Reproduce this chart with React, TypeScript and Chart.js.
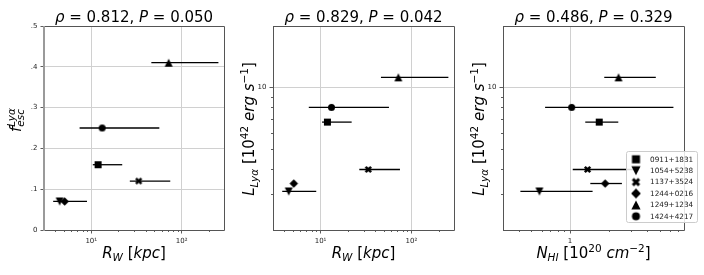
import React, { useEffect, useRef } from "react";
import { Chart, registerables } from "chart.js";
Chart.register(...registerables);

// ---------------- data ----------------
const sources = ["0911+1831", "1054+5238", "1137+3524", "1244+0216", "1249+1234", "1424+4217"];
const markerKinds = ["s", "v", "X", "D", "^", "o"];
const rw = [11.9, 4.47, 33.5, 5.08, 71.8, 13.2];
const rwLow: (number | null)[] = [10.4, 3.79, 26.7, null, 46.2, 7.43];
const rwHigh: (number | null)[] = [22.0, 8.97, 74.8, null, 255, 56.6];
const fescLya = [0.16, 0.07, 0.12, 0.07, 0.41, 0.25];
const lumLya = [6.76, 3.09, 3.96, 3.38, 11.2, 7.98];
const nHI = [1.69, 0.577, 1.37, 1.88, 2.39, 1.03];
const nHILow: (number | null)[] = [1.315, 0.41, 1.05, 1.44, 1.85, 0.639];
const nHIHigh: (number | null)[] = [2.38, 1.5, 3.2, 2.54, 4.67, 6.41];

const rhoValues = ["0.812", "0.829", "0.486"];
const pValues = ["0.050", "0.042", "0.329"];

const fescTicks = [0, 0.1, 0.2, 0.3, 0.4, 0.5];
const fescTickLabels = ["0", ".1", ".2", ".3", ".4", ".5"];
const rwTicks = [10, 100];
const rwTickLabels = ["10\u00b9", "10\u00b2"];
const rwMinorTicks = [3, 4, 5, 6, 7, 8, 9, 20, 30, 40, 50, 60, 70, 80, 90, 200];
const lumTicks = [10];
const lumTickLabels = ["10"];
const lumMinorTicks = [2, 3, 4, 5, 6, 7, 8, 9];
const nhiTicks = [1];
const nhiTickLabels = ["1"];
const nhiMinorTicks = [0.4, 0.5, 0.6, 0.7, 0.8, 0.9, 2, 3, 4, 5, 6, 7];

// ---------------- styling / layout ----------------
const W = 704;
const H = 275;
const FONT = '"DejaVu Sans", sans-serif';
const YW = 30; // y-axis box width

type Seg = { t: string; it?: boolean; s?: number; dy?: number; stack?: Seg[] };

function segFont(seg: Seg, base: number) {
  return `${seg.it ? "italic " : ""}${seg.s ?? base}px ${FONT}`;
}
function segWidth(ctx: CanvasRenderingContext2D, seg: Seg, base: number): number {
  if (seg.stack) return Math.max(...seg.stack.map((s) => segWidth(ctx, s, base)));
  ctx.font = segFont(seg, base);
  return ctx.measureText(seg.t).width;
}
function drawRich(
  ctx: CanvasRenderingContext2D,
  segs: Seg[],
  x: number,
  y: number,
  base: number,
  rotate = false
) {
  ctx.save();
  ctx.translate(x, y);
  if (rotate) ctx.rotate(-Math.PI / 2);
  ctx.textAlign = "left";
  ctx.textBaseline = "alphabetic";
  ctx.fillStyle = "#000";
  const total = segs.reduce((a, s) => a + segWidth(ctx, s, base), 0);
  let cx = -total / 2;
  for (const seg of segs) {
    const w = segWidth(ctx, seg, base);
    const parts = seg.stack ? seg.stack : [seg];
    for (const p of parts) {
      ctx.font = segFont(p, base);
      ctx.fillText(p.t, cx, p.dy ?? 0);
    }
    cx += w;
  }
  ctx.restore();
}

function makeMarker(kind: string, size: number): HTMLCanvasElement {
  const pad = 2;
  const d = Math.ceil(size + pad * 2);
  const c = document.createElement("canvas");
  c.width = d;
  c.height = d;
  const g = c.getContext("2d")!;
  const m = d / 2;
  const r = size / 2;
  g.fillStyle = "#000";
  g.strokeStyle = "#000";
  g.beginPath();
  if (kind === "s") {
    g.rect(m - r, m - r, size, size);
    g.fill();
  } else if (kind === "o") {
    g.arc(m, m, r, 0, Math.PI * 2);
    g.fill();
  } else if (kind === "^") {
    g.moveTo(m, m - r);
    g.lineTo(m + r, m + r);
    g.lineTo(m - r, m + r);
    g.closePath();
    g.fill();
  } else if (kind === "v") {
    g.moveTo(m, m + r);
    g.lineTo(m + r, m - r);
    g.lineTo(m - r, m - r);
    g.closePath();
    g.fill();
  } else if (kind === "D") {
    g.moveTo(m, m - r);
    g.lineTo(m + r, m);
    g.lineTo(m, m + r);
    g.lineTo(m - r, m);
    g.closePath();
    g.fill();
  } else if (kind === "X") {
    const a = r * 0.78;
    g.lineWidth = size * 0.36;
    g.lineCap = "butt";
    g.moveTo(m - a, m - a);
    g.lineTo(m + a, m + a);
    g.moveTo(m + a, m - a);
    g.lineTo(m - a, m + a);
    g.stroke();
  }
  return c;
}
const markerSize: Record<string, number> = { s: 7, v: 8, X: 7, D: 8.5, "^": 8, o: 7 };

interface Panel {
  xs: number[];
  ys: number[];
  lo: (number | null)[];
  hi: (number | null)[];
  xType: "logarithmic" | "linear";
  yType: "logarithmic" | "linear";
  xMin: number;
  xMax: number;
  yMin: number;
  yMax: number;
  xTicks: number[];
  xTickLabels: string[];
  xMinor: number[];
  yTicks: number[];
  yTickLabels: string[];
  yMinor: number[];
  area: { l: number; r: number; t: number; b: number };
  title: Seg[];
  xLabel: Seg[];
  yLabel: Seg[];
  yLabelPos: { x: number; y: number };
  leftSpine: { color: string; width: number };
  legend: boolean;
}

const SUB = 10.5;
const titleSegs = (i: number): Seg[] => [
  { t: "\u03c1", it: true },
  { t: " = " + rhoValues[i] + ", " },
  { t: "P", it: true },
  { t: " = " + pValues[i] },
];
const rwLabel: Seg[] = [
  { t: "R", it: true },
  { t: "W", it: true, s: SUB, dy: 3 },
  { t: " [" },
  { t: "kpc", it: true },
  { t: "]" },
];
const nhiLabel: Seg[] = [
  { t: "N", it: true },
  { t: "HI", it: true, s: SUB, dy: 3 },
  { t: " [10" },
  { t: "20", s: SUB, dy: -6 },
  { t: " " },
  { t: "cm", it: true },
  { t: "\u22122", s: SUB, dy: -6 },
  { t: "]" },
];
const lumLabel: Seg[] = [
  { t: "L", it: true },
  { t: "Ly\u03b1", it: true, s: SUB, dy: 3.5 },
  { t: " [10" },
  { t: "42", s: SUB, dy: -6 },
  { t: " " },
  { t: "erg", it: true },
  { t: " " },
  { t: "s", it: true },
  { t: "\u22121", s: SUB, dy: -6 },
  { t: "]" },
];
const fescLabel: Seg[] = [
  { t: "f", it: true },
  {
    t: "",
    stack: [
      { t: "Ly\u03b1", it: true, s: SUB, dy: -5.5 },
      { t: "esc", it: true, s: SUB, dy: 3 },
    ],
  },
];

const RW_MIN = 3.0;
const RW_MAX = 294;

const panels: Panel[] = [
  {
    xs: rw, ys: fescLya, lo: rwLow, hi: rwHigh,
    xType: "logarithmic", yType: "linear",
    xMin: RW_MIN, xMax: RW_MAX, yMin: 0, yMax: 0.5,
    xTicks: rwTicks, xTickLabels: rwTickLabels, xMinor: rwMinorTicks,
    yTicks: fescTicks, yTickLabels: fescTickLabels, yMinor: [],
    area: { l: 44, r: 224, t: 26, b: 230 },
    title: titleSegs(0), xLabel: rwLabel, yLabel: fescLabel,
    yLabelPos: { x: 20.5, y: 120 },
    leftSpine: { color: "#9a9a9a", width: 2 },
    legend: false,
  },
  {
    xs: rw, ys: lumLya, lo: rwLow, hi: rwHigh,
    xType: "logarithmic", yType: "logarithmic",
    xMin: RW_MIN, xMax: RW_MAX, yMin: 2, yMax: 20,
    xTicks: rwTicks, xTickLabels: rwTickLabels, xMinor: rwMinorTicks,
    yTicks: lumTicks, yTickLabels: lumTickLabels, yMinor: lumMinorTicks,
    area: { l: 273, r: 454, t: 26, b: 230 },
    title: titleSegs(1), xLabel: rwLabel, yLabel: lumLabel,
    yLabelPos: { x: 254, y: 129 },
    leftSpine: { color: "#555", width: 1 },
    legend: false,
  },
  {
    xs: nHI, ys: lumLya, lo: nHILow, hi: nHIHigh,
    xType: "logarithmic", yType: "logarithmic",
    xMin: 0.303, xMax: 7.75, yMin: 2, yMax: 20,
    xTicks: nhiTicks, xTickLabels: nhiTickLabels, xMinor: nhiMinorTicks,
    yTicks: lumTicks, yTickLabels: lumTickLabels, yMinor: lumMinorTicks,
    area: { l: 503, r: 684, t: 26, b: 230 },
    title: titleSegs(2), xLabel: nhiLabel, yLabel: lumLabel,
    yLabelPos: { x: 484, y: 129 },
    leftSpine: { color: "#555", width: 1 },
    legend: true,
  },
];

function buildChart(canvas: HTMLCanvasElement, p: Panel): Chart {
  const pointImgs = markerKinds.map((k) => makeMarker(k, markerSize[k]));
  const legendImgs = markerKinds.map((k) => makeMarker(k, markerSize[k] * 1.15));
  const crisp = (v: number) => Math.round(v) + 0.5;

  const deco = {
    id: "deco",
    beforeDatasetsDraw(chart: any) {
      const ctx: CanvasRenderingContext2D = chart.ctx;
      const sx = chart.scales.x;
      const sy = chart.scales.y;
      ctx.save();
      ctx.strokeStyle = "#000";
      ctx.lineWidth = 1.3;
      p.lo.forEach((lo, i) => {
        const hi = p.hi[i];
        if (lo == null || hi == null) return;
        const y = sy.getPixelForValue(p.ys[i]);
        ctx.beginPath();
        ctx.moveTo(sx.getPixelForValue(lo), y);
        ctx.lineTo(sx.getPixelForValue(hi), y);
        ctx.stroke();
      });
      ctx.restore();
    },
    afterDraw(chart: any) {
      const ctx: CanvasRenderingContext2D = chart.ctx;
      const a = chart.chartArea;
      const sx = chart.scales.x;
      const sy = chart.scales.y;
      ctx.save();
      // minor ticks
      ctx.strokeStyle = "#333";
      ctx.lineWidth = 0.8;
      ctx.beginPath();
      p.xMinor.forEach((v) => {
        if (v <= p.xMin || v >= p.xMax) return;
        const px = crisp(sx.getPixelForValue(v));
        ctx.moveTo(px, a.bottom);
        ctx.lineTo(px, a.bottom + 2);
      });
      p.yMinor.forEach((v) => {
        if (v <= p.yMin || v >= p.yMax) return;
        const py = crisp(sy.getPixelForValue(v));
        ctx.moveTo(a.left, py);
        ctx.lineTo(a.left - 2, py);
      });
      ctx.stroke();
      // frame
      ctx.strokeStyle = "#555";
      ctx.lineWidth = 1;
      ctx.beginPath();
      ctx.moveTo(crisp(a.left), crisp(a.top));
      ctx.lineTo(crisp(a.right), crisp(a.top));
      ctx.lineTo(crisp(a.right), crisp(a.bottom));
      ctx.lineTo(crisp(a.left), crisp(a.bottom));
      ctx.stroke();
      ctx.strokeStyle = p.leftSpine.color;
      ctx.lineWidth = p.leftSpine.width;
      ctx.beginPath();
      const lx = p.leftSpine.width === 2 ? Math.round(a.left) : crisp(a.left);
      ctx.moveTo(lx, Math.round(a.top));
      ctx.lineTo(lx, Math.round(a.bottom) + 1);
      ctx.stroke();
      // texts
      const cx = (a.left + a.right) / 2;
      drawRich(ctx, p.title, cx, 22, 15);
      drawRich(ctx, p.xLabel, cx, 258, 15);
      drawRich(ctx, p.yLabel, p.yLabelPos.x, p.yLabelPos.y, 15, true);
      // legend
      if (p.legend) {
        const bx = 626, by = 151, bw = 71, bh = 71;
        ctx.fillStyle = "rgba(255,255,255,0.85)";
        ctx.strokeStyle = "#cccccc";
        ctx.lineWidth = 1;
        ctx.beginPath();
        ctx.roundRect(bx + 0.5, by + 0.5, bw, bh, 2);
        ctx.fill();
        ctx.stroke();
        ctx.font = `7.3px ${FONT}`;
        ctx.fillStyle = "#222";
        ctx.textAlign = "left";
        ctx.textBaseline = "middle";
        sources.forEach((name, i) => {
          const cy = by + 8.3 + i * 11.4;
          const img = legendImgs[i];
          ctx.drawImage(img, 636 - img.width / 2, cy - img.height / 2);
          ctx.fillText(name, 650, cy + 0.5);
        });
      }
      ctx.restore();
    },
  };

  const tickFont = { size: 7, family: FONT };
  return new Chart(canvas, {
    type: "scatter",
    data: {
      datasets: [
        {
          data: p.xs.map((x, i) => ({ x, y: p.ys[i] })),
          pointStyle: pointImgs as any,
          backgroundColor: "#000",
          borderColor: "#000",
        },
      ],
    },
    options: {
      animation: false,
      responsive: false,
      maintainAspectRatio: false,
      events: [],
      layout: { padding: { left: p.area.l - YW, right: W - p.area.r, top: p.area.t, bottom: 0 } },
      plugins: { legend: { display: false }, tooltip: { enabled: false } },
      scales: {
        x: {
          type: p.xType,
          min: p.xMin,
          max: p.xMax,
          afterBuildTicks: (s: any) => {
            s.ticks = p.xTicks.map((v) => ({ value: v }));
          },
          afterFit: (s: any) => {
            s.height = H - p.area.b;
          },
          ticks: {
            autoSkip: false,
            maxRotation: 0,
            padding: 3,
            color: "#222",
            font: tickFont,
            callback: (v: any) => {
              const i = p.xTicks.indexOf(Number(v));
              return i >= 0 ? p.xTickLabels[i] : "";
            },
          },
          grid: { color: "#d0d0d0", lineWidth: 1, drawTicks: true, tickLength: 3.5, tickColor: "#333", tickWidth: 0.8 },
          border: { display: false },
        },
        y: {
          type: p.yType,
          min: p.yMin,
          max: p.yMax,
          afterBuildTicks: (s: any) => {
            s.ticks = p.yTicks.map((v) => ({ value: v }));
          },
          afterFit: (s: any) => {
            s.width = YW;
          },
          ticks: {
            autoSkip: false,
            padding: 3,
            color: "#222",
            font: tickFont,
            callback: (v: any) => {
              const i = p.yTicks.findIndex((t) => Math.abs(t - Number(v)) < 1e-9);
              return i >= 0 ? p.yTickLabels[i] : "";
            },
          },
          grid: { color: "#d0d0d0", lineWidth: 1, drawTicks: true, tickLength: 3.5, tickColor: "#333", tickWidth: 0.8 },
          border: { display: false },
        },
      },
    } as any,
    plugins: [deco],
  });
}

function PanelCanvas({ panel }: { panel: Panel }) {
  const ref = useRef<HTMLCanvasElement | null>(null);
  useEffect(() => {
    if (!ref.current) return;
    const chart = buildChart(ref.current, panel);
    return () => chart.destroy();
  }, [panel]);
  return (
    <canvas
      ref={ref}
      width={W}
      height={H}
      style={{ position: "absolute", left: 0, top: 0, width: W, height: H }}
    />
  );
}

export default function App() {
  return (
    <div style={{ position: "absolute", left: 0, top: 0, width: W, height: H, background: "#fff" }}>
      {panels.map((p, i) => (
        <PanelCanvas key={i} panel={p} />
      ))}
    </div>
  );
}
